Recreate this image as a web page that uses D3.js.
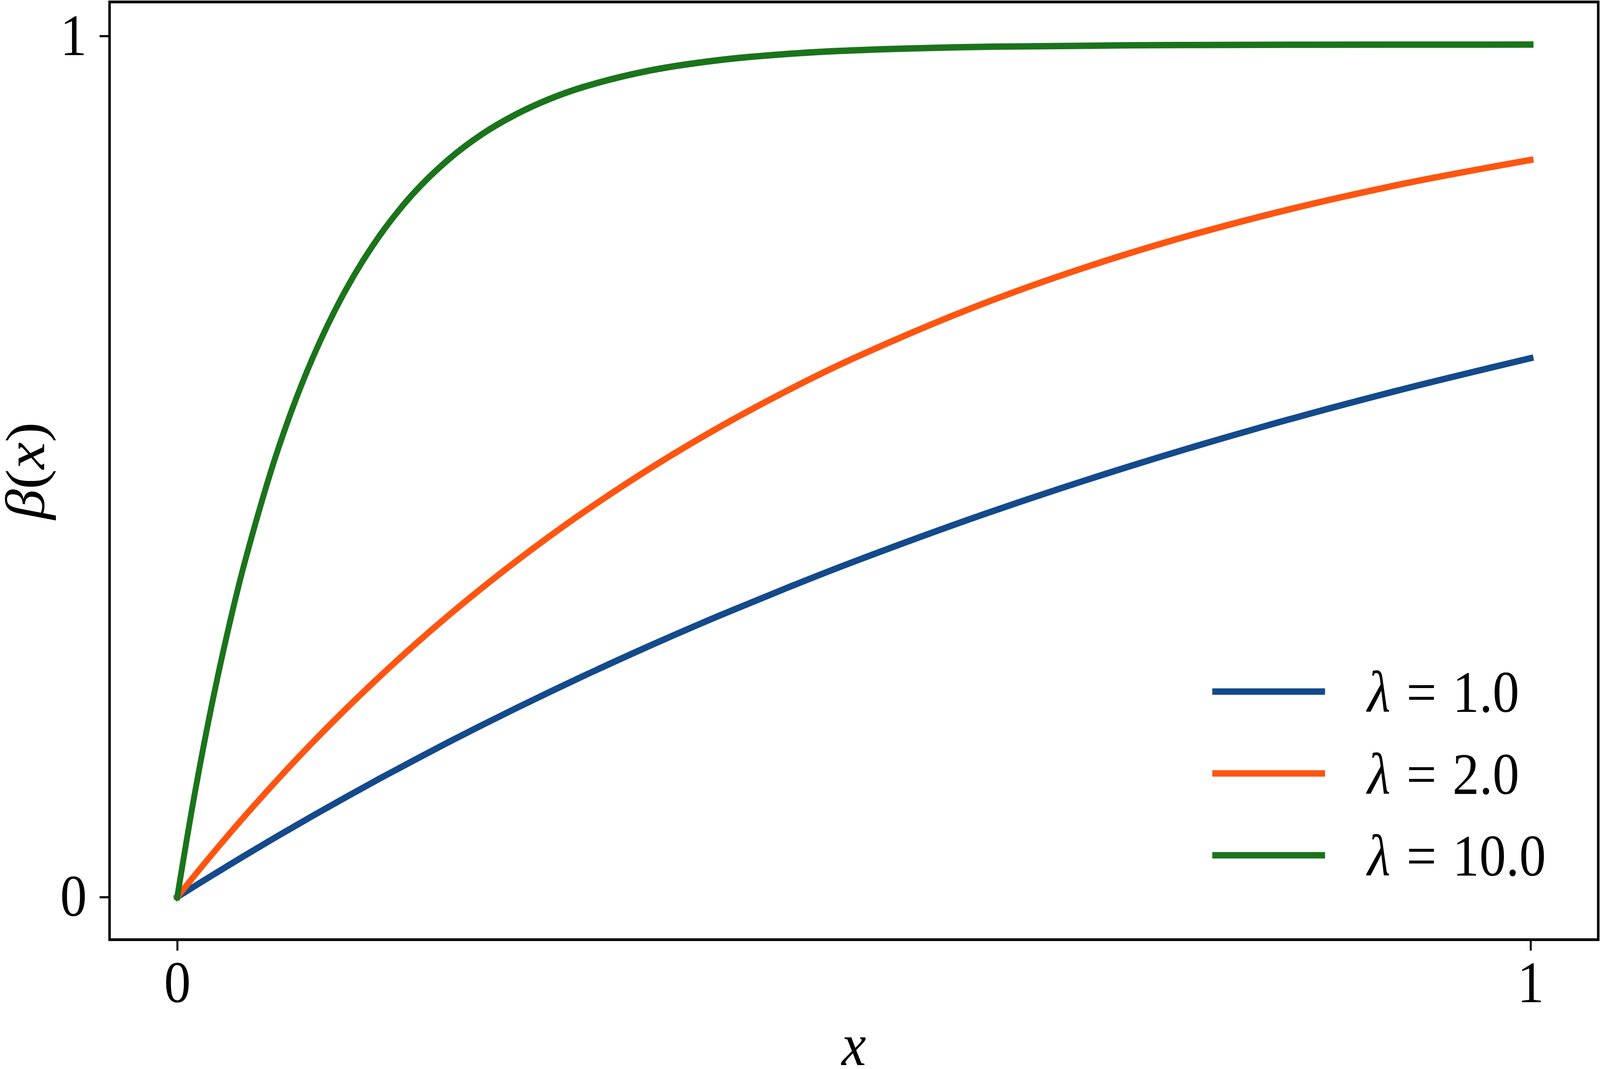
<!DOCTYPE html>
<html>
<head>
<meta charset="utf-8">
<script src="https://cdn.jsdelivr.net/npm/d3@7"></script>
<style>
  html, body { margin: 0; padding: 0; background: #fff; overflow: hidden; }
  svg { display: block; width: 100vw; height: 100vh; }
</style>
</head>
<body>
<svg viewBox="0 0 4498 2736" preserveAspectRatio="none"></svg>
<script>
// values
var xs      = [0, 0.0125, 0.025, 0.0375, 0.05, 0.075, 0.1, 0.125, 0.15, 0.175, 0.2, 0.225, 0.25, 0.275, 0.3, 0.35, 0.4, 0.45, 0.5, 0.6, 0.7, 0.8, 0.9, 1.0];
var beta1   = [0, 0.0123, 0.0244, 0.0364, 0.0483, 0.0715, 0.0942, 0.1163, 0.1379, 0.1589, 0.1795, 0.1995, 0.2190, 0.2380, 0.2566, 0.2924, 0.3264, 0.3587, 0.3895, 0.4467, 0.4984, 0.5452, 0.5875, 0.6258];
var beta2   = [0, 0.0244, 0.0483, 0.0715, 0.0942, 0.1379, 0.1795, 0.2190, 0.2566, 0.2924, 0.3264, 0.3587, 0.3895, 0.4188, 0.4467, 0.4984, 0.5452, 0.5875, 0.6258, 0.6918, 0.7459, 0.7901, 0.8264, 0.8560];
var beta10  = [0, 0.1163, 0.2190, 0.3096, 0.3895, 0.5224, 0.6258, 0.7064, 0.7691, 0.8180, 0.8560, 0.8857, 0.9087, 0.9267, 0.9407, 0.9601, 0.9719, 0.9790, 0.9833, 0.9875, 0.9891, 0.9897, 0.9899, 0.9900];
var lambdas = ['1.0', '2.0', '10.0'];
var colors  = ['#144a8b', '#ff5511', '#1b741b'];
var xTicks  = [0, 1];
var yTicks  = [0, 1];

var series = [beta1, beta2, beta10];

// plot box (note: "top" is taken by window.top)
var boxLeft = 308, boxRight = 4493, boxTop = 5, boxBottom = 2405;
var font = '"Liberation Serif", "DejaVu Serif", serif';

var svg = d3.select('svg');

svg.append('rect')
    .attr('width', 4498)
    .attr('height', 2736)
    .attr('fill', '#fff');

// matplotlib style 5% margins
var xMin = d3.min(xs), xMax = d3.max(xs);
var yMin = d3.min(series, function(s){ return d3.min(s); });
var yMax = d3.max(series, function(s){ return d3.max(s); });
var xPad = (xMax - xMin) * 0.05, yPad = (yMax - yMin) * 0.05;

var scaleX = d3.scaleLinear().domain([xMin - xPad, xMax + xPad]).range([boxLeft, boxRight]);
var scaleY = d3.scaleLinear().domain([yMin - yPad, yMax + yPad]).range([boxBottom, boxTop]);

var line = d3.line()
    .x(function(d, i){ return scaleX(xs[i]); })
    .y(function(d){ return scaleY(d); })
    .curve(d3.curveCatmullRom.alpha(0.5));

svg.append('g')
    .selectAll('path')
    .data(series)
    .enter()
    .append('path')
    .attr('d', line)
    .attr('fill', 'none')
    .attr('stroke', function(d, i){ return colors[i]; })
    .attr('stroke-width', 16.5)
    .attr('stroke-linecap', 'square')
    .attr('stroke-linejoin', 'round');

// axes
var xAxis = svg.append('g')
    .attr('transform', 'translate(0,' + boxBottom + ')')
    .call(d3.axisBottom(scaleX).tickValues(xTicks).tickFormat(d3.format('d')).tickSize(28).tickPadding(26));

var yAxis = svg.append('g')
    .attr('transform', 'translate(' + boxLeft + ',0)')
    .call(d3.axisLeft(scaleY).tickValues(yTicks).tickFormat(d3.format('d')).tickSize(28).tickPadding(36));

[xAxis, yAxis].forEach(function(ax){
    ax.select('.domain').remove();
    ax.attr('font-family', font).attr('font-size', 150);
    ax.selectAll('line').attr('stroke', '#000').attr('stroke-width', 5.5);
    ax.selectAll('text').attr('fill', '#000');
});

// frame
svg.append('rect')
    .attr('x', boxLeft)
    .attr('y', boxTop)
    .attr('width', boxRight - boxLeft)
    .attr('height', boxBottom - boxTop)
    .attr('fill', 'none')
    .attr('stroke', '#000')
    .attr('stroke-width', 7);

// axis labels
svg.append('text')
    .attr('x', (boxLeft + boxRight) / 2)
    .attr('y', 2726)
    .attr('text-anchor', 'middle')
    .attr('font-family', font)
    .attr('font-style', 'italic')
    .attr('font-size', 155)
    .text('x');

var yLabel = svg.append('text')
    .attr('transform', 'translate(124,' + ((boxTop + boxBottom) / 2) + ') rotate(-90)')
    .attr('text-anchor', 'middle')
    .attr('font-family', font)
    .attr('font-size', 155);
yLabel.append('tspan').attr('font-style', 'italic').text('β');
yLabel.append('tspan').text('(');
yLabel.append('tspan').attr('font-style', 'italic').text('x');
yLabel.append('tspan').text(')');

// legend
var legend = svg.append('g')
    .selectAll('g')
    .data(lambdas)
    .enter()
    .append('g')
    .attr('transform', function(d, i){ return 'translate(3408,' + (1770 + i * 209.5) + ')'; });

legend.append('line')
    .attr('x1', 0)
    .attr('x2', 317)
    .attr('stroke', function(d, i){ return colors[i]; })
    .attr('stroke-width', 16.5);

var legendText = legend.append('text')
    .attr('x', 436)
    .attr('y', 52)
    .attr('font-family', font)
    .attr('font-size', 150);
legendText.append('tspan').attr('font-style', 'italic').text('λ');
legendText.append('tspan').attr('dx', 45).text('=');
legendText.append('tspan').attr('dx', 45).text(function(d){ return d; });
</script>
</body>
</html>
